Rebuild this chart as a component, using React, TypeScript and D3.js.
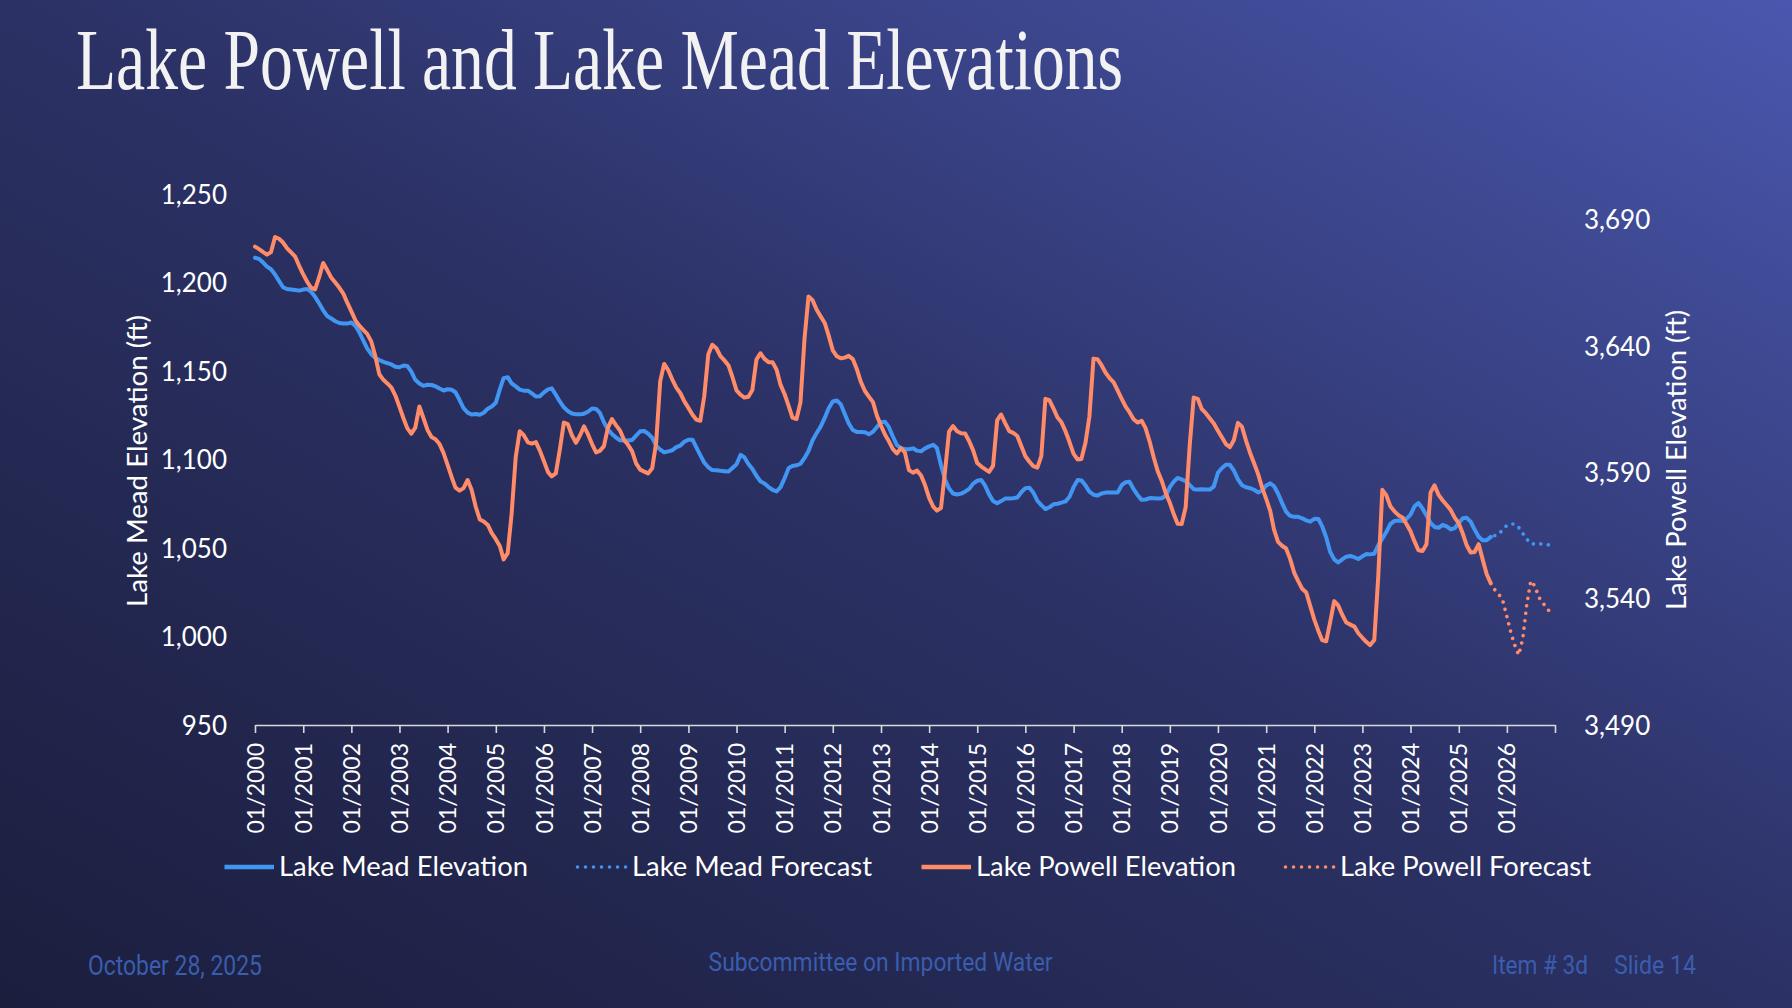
import React, { useEffect, useRef } from 'react';
import * as d3 from 'd3';

const WIDTH = 1792;
const HEIGHT = 1008;

// Monthly elevations (ft), Jan 2000 - Sep 2025, one row per year
const historyStart = new Date(2000, 0, 1);

const meadElevation = [
  1214, 1213.3, 1211.4, 1209, 1207.5, 1204.5, 1200.9, 1197.3, 1196.3, 1196.1, 1195.8, 1195.4,
  1196, 1196.3, 1194.8, 1191.9, 1188.3, 1184.3, 1181.1, 1179.7, 1178.1, 1177.1, 1176.8, 1176.8,
  1177.4, 1175.4, 1172.1, 1167.3, 1162.8, 1159.5, 1157.4, 1156.2, 1155.2, 1154.5, 1153.7, 1152.4,
  1152.1, 1153.1, 1152.9, 1149.6, 1145, 1142.9, 1141.6, 1142.2, 1142.1, 1141.4, 1140.1, 1139,
  1139.7, 1139.4, 1138, 1133.6, 1129, 1126.5, 1125.4, 1125.7, 1125.3, 1126.4, 1128.7, 1130,
  1132.1, 1139.8, 1146, 1146.5, 1143, 1141.3, 1139.5, 1138.9, 1138.9, 1137.4, 1135.6, 1135.7,
  1137.9, 1139.6, 1140.2, 1136.6, 1132.8, 1129.5, 1127.4, 1126, 1125.6, 1125.5, 1125.9, 1127,
  1128.8, 1128.6, 1126.4, 1121, 1117.1, 1114.4, 1112.4, 1110.9, 1110.7, 1110.7, 1111, 1113.5,
  1115.9, 1116.1, 1114.6, 1112.3, 1107.8, 1105.6, 1104, 1104.6, 1105.2, 1107, 1107.9, 1110,
  1111.2, 1111.2, 1107, 1102.5, 1098.2, 1095.6, 1094, 1093.9, 1093.6, 1093.4, 1093.2, 1095.2,
  1097.3, 1102.6, 1101.3, 1097.5, 1094.7, 1090.8, 1087.7, 1086.4, 1084.4, 1082.9, 1082, 1084.4,
  1089.5, 1095.2, 1096.3, 1096.7, 1097.6, 1100.9, 1104.8, 1110.9, 1115, 1118.6, 1123.5, 1129,
  1132.8, 1133.3, 1131.3, 1125.7, 1120.4, 1116.7, 1115.6, 1115.6, 1115.4, 1114.3, 1115.7, 1118.4,
  1121.1, 1121.3, 1118.4, 1113, 1108.2, 1106.4, 1105.8, 1105.8, 1106.3, 1105, 1104.6, 1106.3,
  1107.4, 1108.3, 1106.5, 1096.8, 1088.8, 1083.7, 1080.8, 1080.2, 1080.7, 1081.8, 1083.4, 1086.4,
  1088, 1088.4, 1085.4, 1080.3, 1076.6, 1075.3, 1076.5, 1077.9, 1077.9, 1078.1, 1078.5, 1081.5,
  1083.8, 1084, 1081.4, 1076.7, 1074.2, 1072, 1073, 1074.7, 1075, 1075.6, 1076.3, 1079,
  1084.4, 1088.4, 1088.2, 1085.4, 1081.8, 1080.1, 1079.6, 1080.8, 1081.3, 1081.3, 1081.3, 1081.3,
  1085.5, 1087.2, 1087.4, 1083.3, 1080, 1077.2, 1077.4, 1078.2, 1078.1, 1077.9, 1078.1, 1079.5,
  1084.4, 1087.6, 1089.6, 1088.8, 1087.7, 1085.6, 1083.2, 1083, 1083.2, 1083, 1083, 1084.8,
  1092.5, 1095.2, 1097, 1097, 1093.7, 1088.8, 1085.5, 1084.3, 1083.8, 1082.9, 1081.4, 1082.5,
  1085.3, 1086.5, 1085, 1080.8, 1075.5, 1070.6, 1068.2, 1067.6, 1067.6, 1066.8, 1065.6, 1064.9,
  1066.5, 1066.4, 1062.4, 1056.1, 1047.9, 1043.6, 1041.8, 1043.6, 1045.1, 1045.5, 1044.8, 1043.8,
  1045.3, 1046.6, 1046.4, 1046.8, 1051.5, 1055.3, 1059, 1063.5, 1065.3, 1065.5, 1065.3, 1066.4,
  1068.8, 1073.6, 1075.4, 1072.3, 1068.4, 1064.1, 1061.9, 1061.4, 1063.1, 1062.2, 1060.5, 1061.2,
  1064.2, 1066.8, 1067.1, 1064.9, 1060.4, 1056.4, 1054.4, 1054.4, 1056.3,
];

const powellElevation = [
  3679.2, 3678.2, 3677.1, 3676, 3677, 3683, 3682.3, 3680.8, 3678.5, 3676.9, 3675.2, 3671.6,
  3668.2, 3665.2, 3663, 3662.3, 3667, 3672.7, 3670, 3667, 3665, 3663, 3660.6, 3657,
  3653.6, 3650, 3648, 3646.3, 3644.7, 3641.7, 3636, 3628.7, 3626.5, 3625.1, 3623.4, 3620.3,
  3615.8, 3611.2, 3607.4, 3605.2, 3607.6, 3616, 3611.5, 3606.8, 3603.9, 3603, 3601.1, 3597.6,
  3592.9, 3588, 3583.9, 3582.7, 3583.7, 3586.9, 3583, 3576.4, 3571.3, 3570.5, 3569.1, 3565.9,
  3563.5, 3560.7, 3555.5, 3558, 3573.7, 3596, 3606.2, 3604.6, 3601.8, 3601.3, 3601.9, 3598.5,
  3594.3, 3590, 3588.3, 3589.5, 3598.8, 3609.6, 3609, 3604.6, 3601.6, 3604.5, 3608.1, 3605,
  3601.1, 3597.8, 3598.4, 3600.3, 3607.5, 3611, 3608.6, 3606.5, 3602.7, 3600.8, 3598.2, 3593.5,
  3591, 3590.2, 3589.5, 3591.5, 3601.5, 3626, 3632.8, 3630.3, 3626.6, 3623.4, 3621.2, 3618,
  3615.4, 3612.7, 3610.8, 3610.3, 3620, 3636.6, 3640.4, 3639, 3635.9, 3634.2, 3632.2, 3627.6,
  3622.3, 3620.6, 3619.5, 3619.8, 3622.5, 3634.5, 3637, 3634.8, 3633.5, 3633.5, 3630.5, 3624.5,
  3620.8, 3616.1, 3611.6, 3611, 3617.6, 3643, 3659.5, 3658, 3654.2, 3651.6, 3649, 3644,
  3638.2, 3635.8, 3635, 3635.3, 3636, 3634.7, 3630.8, 3625.7, 3622.1, 3619.9, 3617.7, 3612.3,
  3608.4, 3604.8, 3602.3, 3599.1, 3597.4, 3599.5, 3597.8, 3590.8, 3589.8, 3590.6, 3588.7, 3584.9,
  3579.8, 3576.4, 3574.8, 3575.8, 3590, 3606, 3608.2, 3606.2, 3605.4, 3605.3, 3602.2, 3598.6,
  3593.6, 3592.2, 3591.2, 3590.1, 3592.5, 3610.5, 3612.8, 3609.4, 3606.2, 3605.5, 3604.3, 3600.3,
  3596.3, 3594.1, 3592.4, 3591.8, 3596.3, 3619, 3618.5, 3615.2, 3611.6, 3609.7, 3606.1, 3601.9,
  3597.2, 3595, 3595.2, 3601.6, 3612, 3634.9, 3634.7, 3632.3, 3629.3, 3627.2, 3625.5, 3622.3,
  3619, 3615.8, 3613.7, 3610.9, 3609.6, 3610.3, 3607.4, 3602.1, 3595.8, 3590.4, 3586.5, 3581.7,
  3577.9, 3573.2, 3569.6, 3569.5, 3576.1, 3600.7, 3619.5, 3619, 3614.9, 3613.3, 3611.2, 3609.2,
  3606.4, 3603.7, 3601.1, 3599.9, 3602.7, 3609.5, 3608, 3602.5, 3597.6, 3593.5, 3589.2, 3583.9,
  3579.4, 3574.6, 3567.4, 3562.4, 3560.9, 3559.8, 3555.8, 3550.3, 3546.9, 3543.9, 3542.4, 3537.1,
  3531.7, 3527.2, 3523.6, 3523.1, 3530.6, 3539, 3537.3, 3533.6, 3530.5, 3529.7, 3528.9, 3526.3,
  3524.5, 3522.8, 3521.6, 3523.6, 3548.6, 3583, 3580.9, 3576.5, 3574.5, 3573, 3572.1, 3569.5,
  3566.6, 3562.5, 3559.1, 3558.8, 3561.5, 3582, 3584.8, 3581, 3578.8, 3577, 3575, 3572,
  3569.8, 3565.6, 3561.2, 3558.2, 3558.4, 3561.5, 3555.5, 3549.6, 3546,
];

// Forecast, Oct 2025 - Dec 2026
const forecastStart = new Date(2025, 9, 1);
const meadForecast = [
  1057, 1057.8, 1060.5,
  1062.8, 1063.6, 1063.6, 1061.6, 1058.3, 1055.1, 1052.4, 1052.3, 1052.4, 1052.2, 1051.9, 1051.6,
];
const powellForecast = [
  3543.5, 3541.7, 3539.1,
  3532.9, 3526.4, 3521.7, 3517.7, 3524, 3537.7, 3547, 3545, 3540.5, 3538.2, 3536.3, 3534,
];

const meadTicks = [950, 1000, 1050, 1100, 1150, 1200, 1250];
const powellTicks = [3490, 3540, 3590, 3640, 3690];
const axisStart = new Date(2000, 0, 1);
const axisEnd = new Date(2027, 0, 1);

const seriesNames = [
  'Lake Mead Elevation',
  'Lake Mead Forecast',
  'Lake Powell Elevation',
  'Lake Powell Forecast',
];

const MEAD_COLOR = '#4196f4';
const POWELL_COLOR = '#ff8b68';
const SANS = 'Lato, "Open Sans", sans-serif';

export default function App() {
  const ref = useRef<SVGSVGElement>(null);

  useEffect(() => {
    if (!ref.current) return;
    const svg = d3.select(ref.current);
    svg.selectAll('*').remove();

    const margin = { top: 194, right: 237, bottom: 283, left: 255 };
    const x0 = margin.left;
    const x1 = WIDTH - margin.right;
    const yTop = margin.top;
    const yBottom = HEIGHT - margin.bottom;

    // background
    const grad = svg.append('defs').append('linearGradient')
      .attr('id', 'bg')
      .attr('x1', 0).attr('y1', 1).attr('x2', 1).attr('y2', 0);
    grad.append('stop').attr('offset', '0%').attr('stop-color', '#1b1e3d');
    grad.append('stop').attr('offset', '50%').attr('stop-color', '#2b3164');
    grad.append('stop').attr('offset', '100%').attr('stop-color', '#4a57ae');
    svg.append('rect')
      .attr('width', WIDTH).attr('height', HEIGHT)
      .attr('fill', 'url(#bg)');

    // title
    svg.append('text')
      .attr('x', 76).attr('y', 89)
      .attr('font-family', '"Liberation Serif", serif')
      .attr('font-size', 86)
      .attr('fill', '#f2f2f2')
      .attr('textLength', 1047)
      .attr('lengthAdjust', 'spacingAndGlyphs')
      .text('Lake Powell and Lake Mead Elevations');

    const x = d3.scaleTime().domain([axisStart, axisEnd]).range([x0, x1]);
    const yMead = d3.scaleLinear().domain([950, 1250]).range([yBottom, yTop]);
    const yPowell = d3.scaleLinear().domain([3490, 3700]).range([yBottom, yTop]);

    // x axis
    const fmt = d3.timeFormat('%m/%Y');
    const xAxis = svg.append('g')
      .attr('transform', `translate(0,${yBottom})`)
      .call(
        d3.axisBottom(x)
          .ticks(d3.timeYear.every(1))
          .tickSize(8)
          .tickSizeOuter(0)
          .tickFormat((d) => ((d as Date) < axisEnd ? fmt(d as Date) : '')),
      );
    xAxis.select('.domain').attr('stroke', '#d9d9d9').attr('stroke-width', 1.6);
    xAxis.selectAll('.tick line').attr('stroke', '#d9d9d9').attr('stroke-width', 1.6);
    xAxis.selectAll('.tick text')
      .attr('transform', 'rotate(-90)')
      .attr('x', -18)
      .attr('y', 0)
      .attr('dy', '0.35em')
      .attr('text-anchor', 'end')
      .attr('font-family', SANS)
      .attr('font-size', 23)
      .attr('fill', '#ffffff');

    // left axis
    const left = svg.append('g')
      .attr('transform', 'translate(227,0)')
      .call(d3.axisLeft(yMead).tickValues(meadTicks).tickSize(0).tickPadding(0).tickFormat(d3.format(',')));
    left.select('.domain').remove();
    left.selectAll('.tick text')
      .attr('font-family', SANS).attr('font-size', 26).attr('fill', '#ffffff').attr('dy', '0.36em');

    // right axis
    const right = svg.append('g')
      .attr('transform', 'translate(1584,0)')
      .call(d3.axisRight(yPowell).tickValues(powellTicks).tickSize(0).tickPadding(0).tickFormat(d3.format(',')));
    right.select('.domain').remove();
    right.selectAll('.tick text')
      .attr('font-family', SANS).attr('font-size', 26).attr('fill', '#ffffff').attr('dy', '0.36em');

    // axis titles
    svg.append('text')
      .attr('transform', 'translate(138,461) rotate(-90)')
      .attr('dy', '0.35em')
      .attr('text-anchor', 'middle')
      .attr('font-family', SANS).attr('font-size', 27).attr('fill', '#ffffff')
      .attr('textLength', 292).attr('lengthAdjust', 'spacingAndGlyphs')
      .text('Lake Mead Elevation (ft)');
    svg.append('text')
      .attr('transform', 'translate(1677,460) rotate(-90)')
      .attr('dy', '0.35em')
      .attr('text-anchor', 'middle')
      .attr('font-family', SANS).attr('font-size', 27).attr('fill', '#ffffff')
      .attr('textLength', 300).attr('lengthAdjust', 'spacingAndGlyphs')
      .text('Lake Powell Elevation (ft)');

    // series
    const lineFrom = (start: Date, scale: d3.ScaleLinear<number, number>) =>
      d3.line<number>()
        .x((_, i) => x(d3.timeMonth.offset(start, i)))
        .y((d) => scale(d));

    const series = [
      { values: meadElevation, start: historyStart, scale: yMead, color: MEAD_COLOR, dotted: false },
      { values: meadForecast, start: forecastStart, scale: yMead, color: MEAD_COLOR, dotted: true },
      { values: powellElevation, start: historyStart, scale: yPowell, color: POWELL_COLOR, dotted: false },
      { values: powellForecast, start: forecastStart, scale: yPowell, color: POWELL_COLOR, dotted: true },
    ];

    series.forEach((s) => {
      svg.append('path')
        .datum(s.values)
        .attr('d', lineFrom(s.start, s.scale))
        .attr('fill', 'none')
        .attr('stroke', s.color)
        .attr('stroke-width', s.dotted ? 3.6 : 4)
        .attr('stroke-linejoin', 'round')
        .attr('stroke-linecap', 'round')
        .attr('stroke-dasharray', s.dotted ? '0.01 7.5' : null);
    });

    // legend
    const legendY = 867;
    const sampleLen = 49.5;
    const textGap = 5;
    const itemGap = 49.5;
    const textWidths = [249, 240, 260, 251];
    let lx = 224.5;
    series.forEach((s, i) => {
      svg.append('line')
        .attr('x1', lx).attr('x2', lx + sampleLen)
        .attr('y1', legendY).attr('y2', legendY)
        .attr('stroke', s.color)
        .attr('stroke-width', s.dotted ? 3.6 : 4.5)
        .attr('stroke-linecap', s.dotted ? 'round' : 'butt')
        .attr('stroke-dasharray', s.dotted ? '0.01 8' : null);
      svg.append('text')
        .attr('x', lx + sampleLen + textGap)
        .attr('y', legendY)
        .attr('dy', '0.35em')
        .attr('font-family', SANS).attr('font-size', 27).attr('fill', '#ffffff')
        .attr('textLength', textWidths[i]).attr('lengthAdjust', 'spacingAndGlyphs')
        .text(seriesNames[i]);
      lx += sampleLen + textGap + textWidths[i] + itemGap;
    });

    // footer
    const footer = svg.append('g')
      .attr('font-family', 'Roboto, sans-serif')
      .attr('fill', '#3a5dae');
    footer.append('text')
      .attr('x', 88).attr('y', 975)
      .attr('font-size', 27)
      .attr('textLength', 174).attr('lengthAdjust', 'spacingAndGlyphs')
      .text('October 28, 2025');
    footer.append('text')
      .attr('x', 880.6).attr('y', 971)
      .attr('text-anchor', 'middle')
      .attr('font-size', 25)
      .attr('textLength', 344).attr('lengthAdjust', 'spacingAndGlyphs')
      .text('Subcommittee on Imported Water');
    footer.append('text')
      .attr('x', 1492).attr('y', 974)
      .attr('font-size', 26)
      .attr('textLength', 96).attr('lengthAdjust', 'spacingAndGlyphs')
      .text('Item # 3d');
    footer.append('text')
      .attr('x', 1614).attr('y', 974)
      .attr('font-size', 26)
      .attr('textLength', 82).attr('lengthAdjust', 'spacingAndGlyphs')
      .text('Slide 14');
  }, []);

  return (
    <svg
      ref={ref}
      width={WIDTH}
      height={HEIGHT}
      style={{ position: 'fixed', left: 0, top: 0, display: 'block' }}
    />
  );
}
